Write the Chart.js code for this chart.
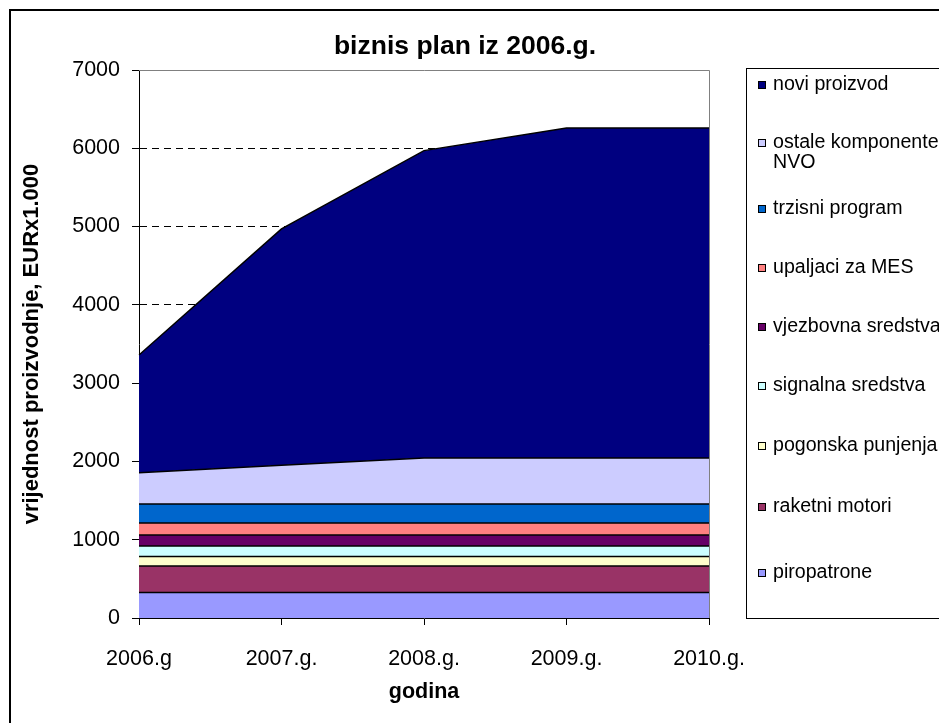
<!DOCTYPE html>
<html>
<head>
<meta charset="utf-8">
<script src="https://cdn.jsdelivr.net/npm/chart.js@4/dist/chart.umd.min.js"></script>
<style>
  html, body { margin: 0; padding: 0; background: #fff; }
  #wrap { width: 939px; height: 723px; position: relative; }
</style>
</head>
<body>
<div id="wrap"><canvas id="c" width="939" height="723"></canvas></div>
<script>
// ---- data (values in EUR x 1.000) ----
const categories = ['2006.g', '2007.g.', '2008.g.', '2009.g.', '2010.g.'];
const yTicks = [0, 1000, 2000, 3000, 4000, 5000, 6000, 7000];

const piropatrone       = [325, 325, 325, 325, 325];
const raketniMotori     = [340, 340, 340, 340, 340];
const pogonskaPunjenja  = [120, 120, 120, 120, 120];
const signalnaSredstva  = [135, 135, 135, 135, 135];
const vjezbovnaSredstva = [140, 140, 140, 140, 140];
const upaljaciZaMES     = [155, 155, 155, 155, 155];
const trzisniProgram    = [240, 240, 240, 240, 240];
const ostaleKomponente  = [400, 495, 590, 590, 590];
const noviProizvod      = [1505, 3020, 3925, 4215, 4215];

const seriesNames = [
  'piropatrone', 'raketni motori', 'pogonska punjenja', 'signalna sredstva',
  'vjezbovna sredstva', 'upaljaci za MES', 'trzisni program',
  ['ostale komponente', 'NVO'], 'novi proizvod'
];
const seriesValues = [
  piropatrone, raketniMotori, pogonskaPunjenja, signalnaSredstva,
  vjezbovnaSredstva, upaljaciZaMES, trzisniProgram, ostaleKomponente, noviProizvod
];
const seriesColors = [
  '#9999FF', '#993366', '#FFFFCC', '#CCFFFF',
  '#660066', '#FF8080', '#0066CC', '#CCCCFF', '#000080'
];

const FONT = '"Liberation Sans", Arial, sans-serif';

const datasets = seriesValues.map((vals, i) => ({
  label: seriesNames[i],
  data: vals,
  backgroundColor: seriesColors[i],
  borderColor: '#000000',
  borderWidth: 1.5,
  fill: i === 0 ? 'origin' : '-1',
  pointRadius: 0,
  pointHoverRadius: 0,
  tension: 0
}));

const framePlugin = {
  id: 'frame',
  beforeDraw(chart) {
    const ctx = chart.ctx;
    ctx.save();
    ctx.fillStyle = '#ffffff';
    ctx.fillRect(0, 0, chart.width, chart.height);
    ctx.restore();
  },
  afterDatasetsDraw(chart) {
    const ctx = chart.ctx;
    const a = chart.chartArea;
    ctx.save();
    ctx.strokeStyle = '#808080';
    ctx.lineWidth = 1;
    ctx.beginPath();
    ctx.moveTo(a.left, a.top + 0.5);
    ctx.lineTo(a.right + 0.5, a.top + 0.5);
    ctx.lineTo(a.right + 0.5, a.bottom);
    ctx.stroke();
    ctx.restore();
  },
  afterDraw(chart) {
    const ctx = chart.ctx;
    ctx.save();
    // outer border
    ctx.strokeStyle = '#000000';
    ctx.lineWidth = 2;
    ctx.strokeRect(10, 10, 2000, 2000);

    // title
    ctx.fillStyle = '#000000';
    ctx.font = 'bold 26.5px ' + FONT;
    ctx.textAlign = 'center';
    ctx.textBaseline = 'middle';
    ctx.fillText('biznis plan iz 2006.g.', 465, 47);

    // legend box
    ctx.strokeStyle = '#000000';
    ctx.lineWidth = 1;
    ctx.strokeRect(746.5, 68.5, 400, 550);

    // legend items (top to bottom = reversed dataset order)
    ctx.font = '19.6px ' + FONT;
    ctx.textAlign = 'left';
    const ds = chart.data.datasets;
    const ys = [85, 143, 209, 268, 327, 386, 446, 507, 573];
    let n = 0;
    for (let i = ds.length - 1; i >= 0; i--, n++) {
      const y = ys[n];
      const lbl = ds[i].label;
      const lines = Array.isArray(lbl) ? lbl : [lbl];
      ctx.fillStyle = ds[i].backgroundColor;
      ctx.fillRect(758, y - 4, 8, 8);
      ctx.strokeStyle = '#000000';
      ctx.strokeRect(758.5, y - 3.5, 7, 7);
      ctx.fillStyle = '#000000';
      lines.forEach((t, k) => ctx.fillText(t, 773, y + k * 20));
    }
    ctx.restore();
  }
};

new Chart(document.getElementById('c'), {
  type: 'line',
  data: { labels: categories, datasets },
  plugins: [framePlugin],
  options: {
    responsive: false,
    animation: false,
    devicePixelRatio: 1,
    layout: { padding: { top: 70, right: 230, bottom: 0, left: 0 } },
    plugins: {
      legend: { display: false },
      title: { display: false },
      tooltip: { enabled: false }
    },
    elements: { line: { borderJoinStyle: 'miter' } },
    scales: {
      x: {
        type: 'category',
        offset: false,
        grid: {
          drawOnChartArea: false,
          drawTicks: true,
          tickLength: 7,
          tickColor: '#000000',
          tickWidth: 1
        },
        border: { display: true, color: '#000000', width: 1 },
        ticks: {
          color: '#000000',
          font: { family: FONT, size: 21.5 },
          padding: 21,
          maxRotation: 0,
          autoSkip: false
        },
        title: {
          display: true,
          text: 'godina',
          color: '#000000',
          font: { family: FONT, size: 21.5, weight: 'bold' },
          padding: { top: 0, bottom: 18 }
        },
        afterFit(scale) { scale.height = 105; }
      },
      y: {
        stacked: true,
        min: 0,
        max: 7000,
        afterBuildTicks(scale) { scale.ticks = yTicks.map(v => ({ value: v })); },
        grid: {
          color: (c) => (c.tick && (c.tick.value === 0 || c.tick.value === 7000)) ? 'rgba(0,0,0,0)' : '#000000',
          lineWidth: 1,
          borderDash: [7, 5],
          drawTicks: true,
          tickLength: 7,
          tickColor: '#000000',
          tickBorderDash: [],
          tickWidth: 1
        },
        border: { display: true, color: '#000000', width: 1, dash: [7, 5] },
        ticks: {
          color: '#000000',
          font: { family: FONT, size: 21.5 },
          padding: 12,
          callback: (v) => String(v)
        },
        title: {
          display: true,
          text: 'vrijednost proizvodnje, EURx1.000',
          color: '#000000',
          font: { family: FONT, size: 22, weight: 'bold' },
          padding: { top: 19, bottom: 0 }
        },
        afterFit(scale) { scale.width = 139; }
      }
    }
  }
});
</script>
</body>
</html>
